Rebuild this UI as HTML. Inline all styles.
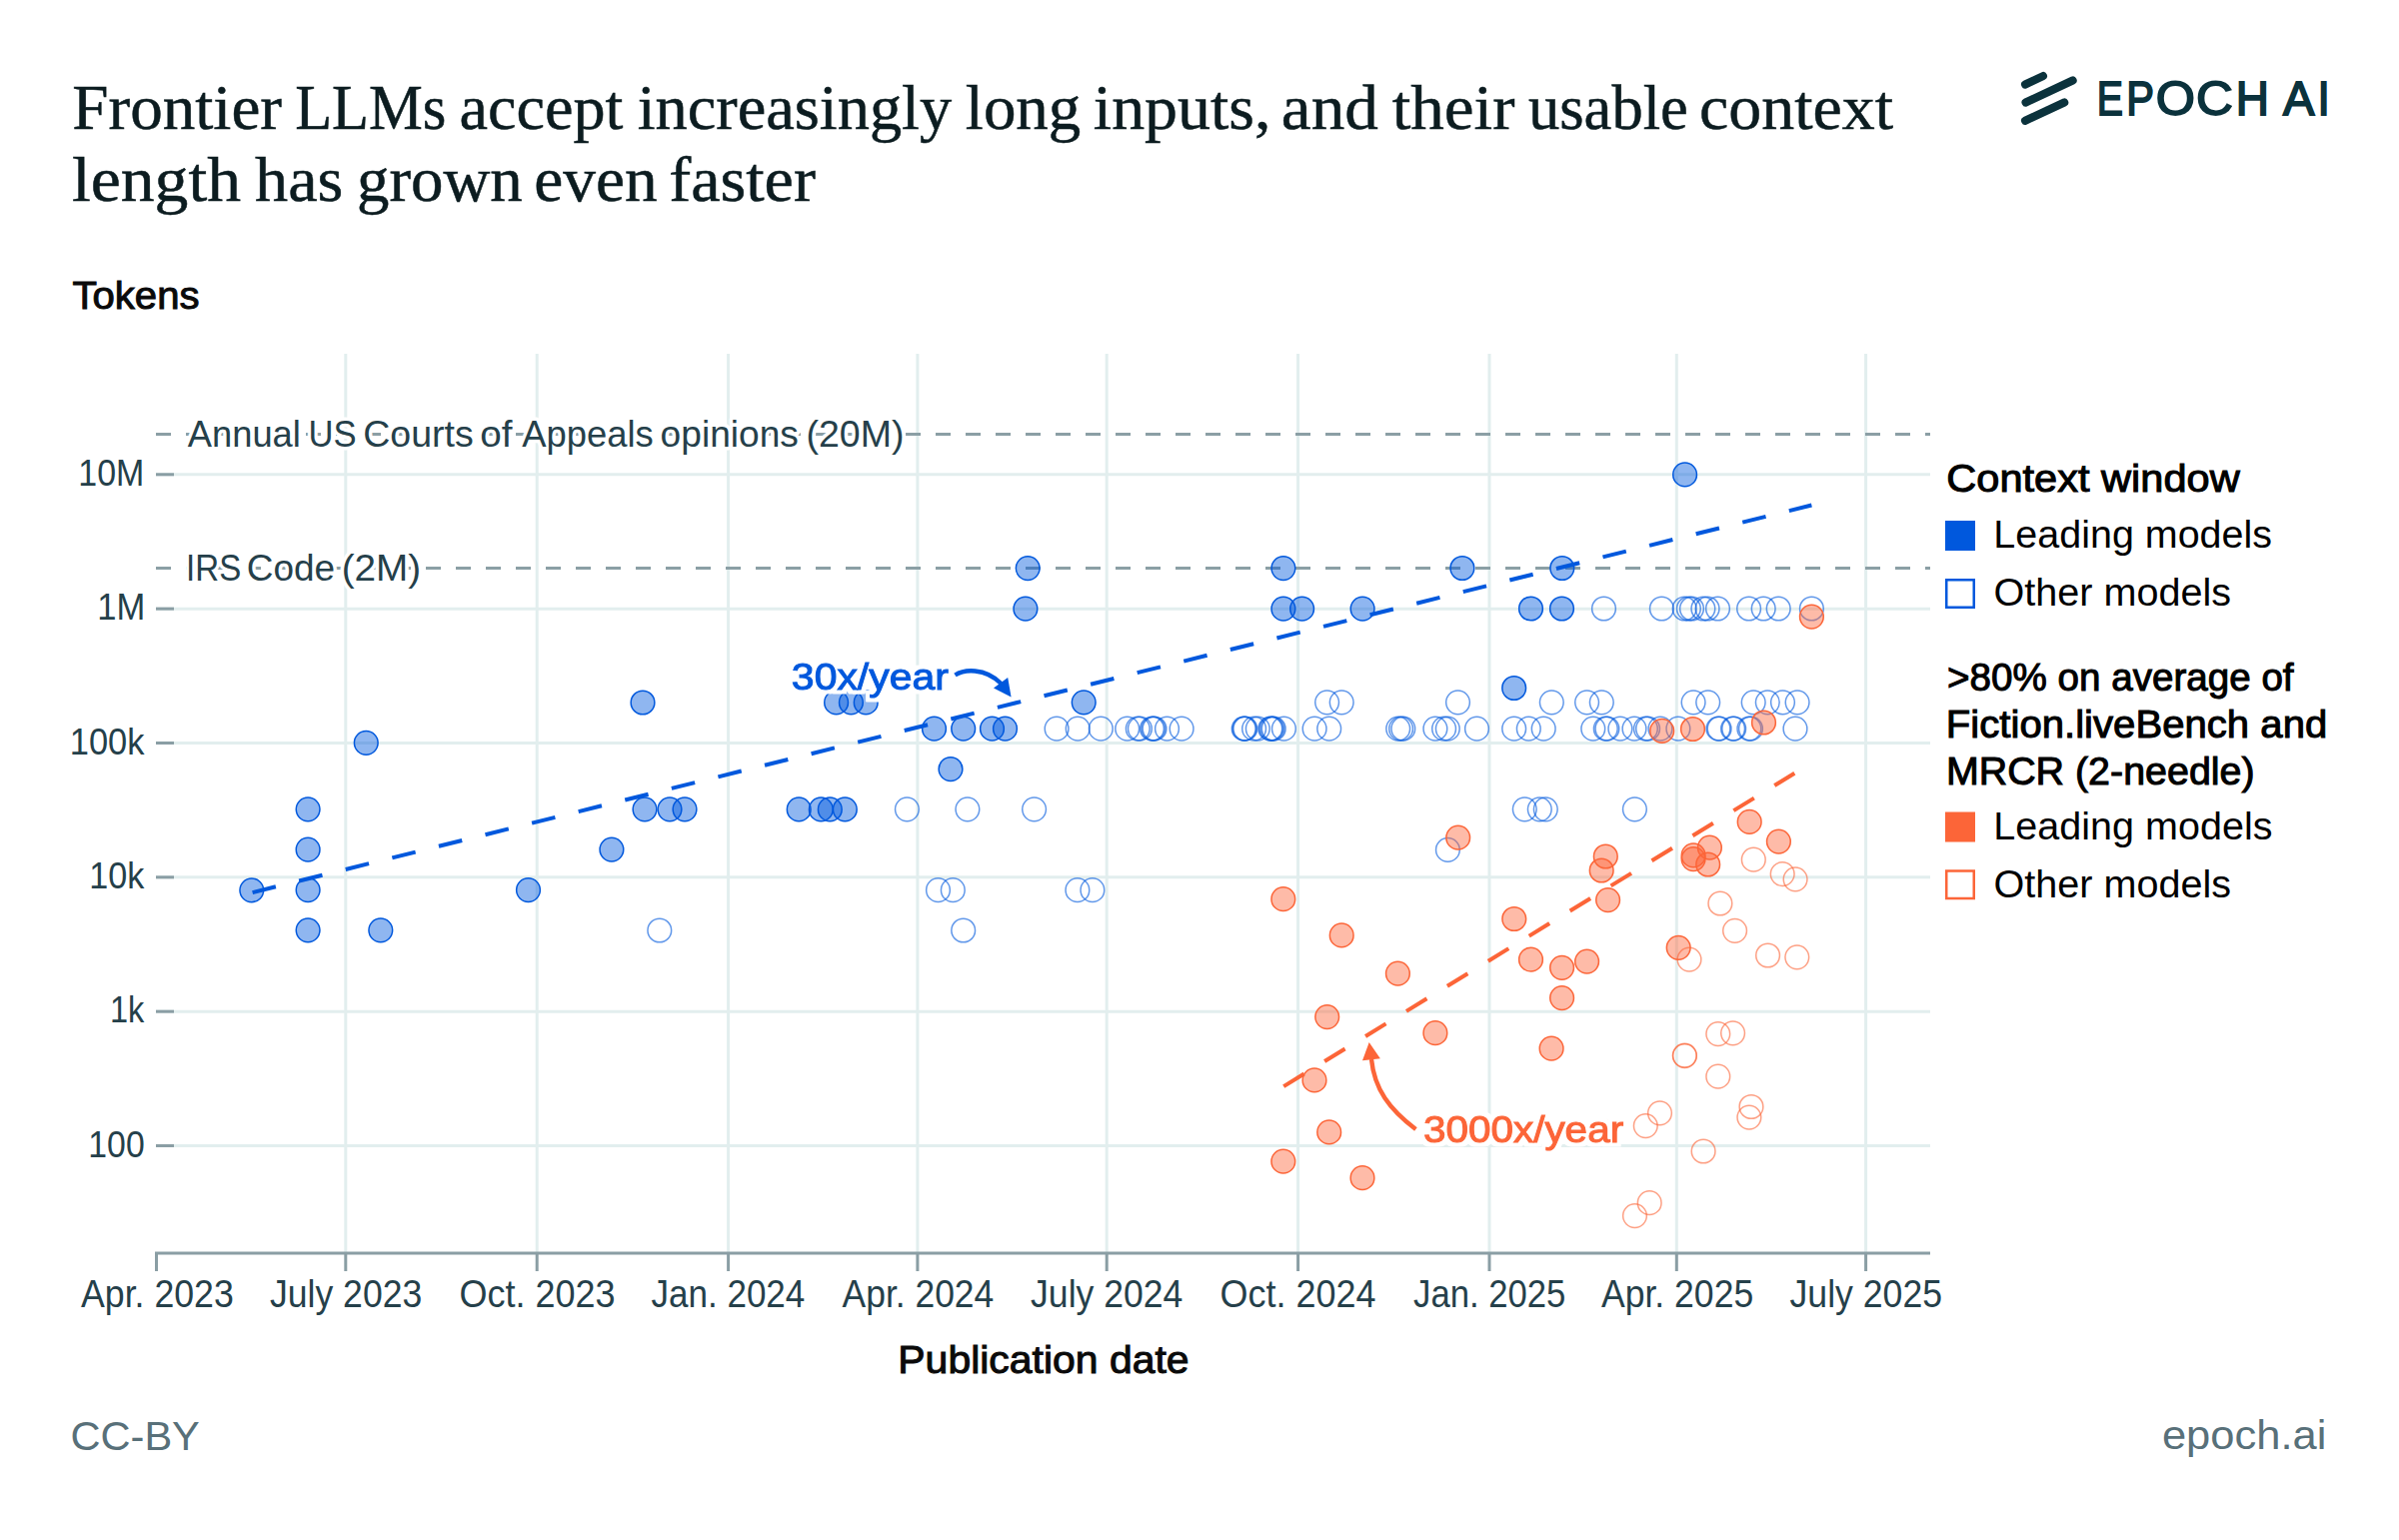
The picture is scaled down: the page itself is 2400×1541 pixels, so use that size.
<!DOCTYPE html><html><head><meta charset="utf-8"><title>Frontier LLMs context length</title><style>
html,body{margin:0;padding:0;background:#fff;width:2400px;height:1541px;overflow:hidden}
svg{display:block}
.sans{font-family:"Liberation Sans",Arial,sans-serif}
.serif{font-family:"Liberation Serif","Times New Roman",serif}
</style></head><body>
<svg width="2400" height="1541" viewBox="0 0 2400 1541">
<rect width="2400" height="1541" fill="#fff"/>
<defs><filter id="halo" x="-10%" y="-40%" width="120%" height="180%" color-interpolation-filters="sRGB"><feMorphology in="SourceAlpha" operator="dilate" radius="3.6" result="d"/><feFlood flood-color="#ffffff" result="f"/><feComposite in="f" in2="d" operator="in" result="w"/><feMerge><feMergeNode in="w"/><feMergeNode in="SourceGraphic"/></feMerge></filter></defs>
<g stroke="#0b323c" stroke-width="8.2" stroke-linecap="round" fill="none">
<line x1="2026.1" y1="84.5" x2="2043.9" y2="76.1"/>
<line x1="2026.6" y1="102.5" x2="2073.6" y2="80.5"/>
<line x1="2026.1" y1="120.7" x2="2065.2" y2="102.5"/>
</g>
<g stroke="#e2eeee" stroke-width="3">
<line x1="345.8" y1="354" x2="345.8" y2="1254"/>
<line x1="537.2" y1="354" x2="537.2" y2="1254"/>
<line x1="728.6" y1="354" x2="728.6" y2="1254"/>
<line x1="917.9" y1="354" x2="917.9" y2="1254"/>
<line x1="1107.2" y1="354" x2="1107.2" y2="1254"/>
<line x1="1298.6" y1="354" x2="1298.6" y2="1254"/>
<line x1="1490.0" y1="354" x2="1490.0" y2="1254"/>
<line x1="1677.3" y1="354" x2="1677.3" y2="1254"/>
<line x1="1866.6" y1="354" x2="1866.6" y2="1254"/>
<line x1="156" y1="474.8" x2="1931" y2="474.8"/>
<line x1="156" y1="609.14" x2="1931" y2="609.14"/>
<line x1="156" y1="743.48" x2="1931" y2="743.48"/>
<line x1="156" y1="877.8199999999999" x2="1931" y2="877.8199999999999"/>
<line x1="156" y1="1012.1600000000001" x2="1931" y2="1012.1600000000001"/>
<line x1="156" y1="1146.5" x2="1931" y2="1146.5"/>
</g>
<g stroke="#8b9fa5" stroke-width="3" stroke-dasharray="15 15">
<line x1="156" y1="434.5" x2="1931" y2="434.5"/>
<line x1="156" y1="568.5" x2="1931" y2="568.5"/>
</g>
<g stroke="#8a9ea4" stroke-width="3">
<line x1="155" y1="1254" x2="1931" y2="1254"/>
<line x1="156.5" y1="1254" x2="156.5" y2="1272"/>
<line x1="345.8" y1="1254" x2="345.8" y2="1272"/>
<line x1="537.2" y1="1254" x2="537.2" y2="1272"/>
<line x1="728.6" y1="1254" x2="728.6" y2="1272"/>
<line x1="917.9" y1="1254" x2="917.9" y2="1272"/>
<line x1="1107.2" y1="1254" x2="1107.2" y2="1272"/>
<line x1="1298.6" y1="1254" x2="1298.6" y2="1272"/>
<line x1="1490.0" y1="1254" x2="1490.0" y2="1272"/>
<line x1="1677.3" y1="1254" x2="1677.3" y2="1272"/>
<line x1="1866.6" y1="1254" x2="1866.6" y2="1272"/>
<line x1="156" y1="474.8" x2="174" y2="474.8"/>
<line x1="156" y1="609.14" x2="174" y2="609.14"/>
<line x1="156" y1="743.48" x2="174" y2="743.48"/>
<line x1="156" y1="877.8199999999999" x2="174" y2="877.8199999999999"/>
<line x1="156" y1="1012.1600000000001" x2="174" y2="1012.1600000000001"/>
<line x1="156" y1="1146.5" x2="174" y2="1146.5"/>
</g>
<text class="serif" y="128.9" font-size="63" fill="#0c1c20" stroke="#0c1c20" stroke-width="0.5"><tspan x="72.27" textLength="209.70" lengthAdjust="spacingAndGlyphs">Frontier</tspan> <tspan x="295.14" textLength="151.30" lengthAdjust="spacingAndGlyphs">LLMs</tspan> <tspan x="459.46" textLength="163.89" lengthAdjust="spacingAndGlyphs">accept</tspan> <tspan x="637.68" textLength="314.43" lengthAdjust="spacingAndGlyphs">increasingly</tspan> <tspan x="965.87" textLength="115.38" lengthAdjust="spacingAndGlyphs">long</tspan> <tspan x="1093.85" textLength="177.60" lengthAdjust="spacingAndGlyphs">inputs,</tspan> <tspan x="1281.87" textLength="97.00" lengthAdjust="spacingAndGlyphs">and</tspan> <tspan x="1392.70" textLength="122.88" lengthAdjust="spacingAndGlyphs">their</tspan> <tspan x="1528.90" textLength="160.04" lengthAdjust="spacingAndGlyphs">usable</tspan> <tspan x="1700.11" textLength="194.00" lengthAdjust="spacingAndGlyphs">context</tspan></text>
<text class="serif" y="200.9" font-size="63" fill="#0c1c20" stroke="#0c1c20" stroke-width="0.5"><tspan x="71.93" textLength="169.09" lengthAdjust="spacingAndGlyphs">length</tspan> <tspan x="255.10" textLength="88.18" lengthAdjust="spacingAndGlyphs">has</tspan> <tspan x="357.04" textLength="165.67" lengthAdjust="spacingAndGlyphs">grown</tspan> <tspan x="534.23" textLength="123.35" lengthAdjust="spacingAndGlyphs">even</tspan> <tspan x="669.20" textLength="146.70" lengthAdjust="spacingAndGlyphs">faster</tspan></text>
<text class="sans" y="115.2" font-size="48.5" fill="#0b323c" stroke="#0b323c" stroke-width="1.8"><tspan x="2097.67" textLength="26.23" lengthAdjust="spacingAndGlyphs">E</tspan><tspan x="2127.13" textLength="27.74" lengthAdjust="spacingAndGlyphs">P</tspan><tspan x="2156.86" textLength="39.24" lengthAdjust="spacingAndGlyphs">O</tspan><tspan x="2196.99" textLength="36.89" lengthAdjust="spacingAndGlyphs">C</tspan><tspan x="2236.86" textLength="33.22" lengthAdjust="spacingAndGlyphs">H</tspan> <tspan x="2283.97" textLength="31.41" lengthAdjust="spacingAndGlyphs">A</tspan><tspan x="2318.53" textLength="12.36" lengthAdjust="spacingAndGlyphs">I</tspan></text>
<text class="sans" x="72.48" y="309" font-size="38.5" fill="#0a0a0a" textLength="127.05" lengthAdjust="spacingAndGlyphs" stroke="#0a0a0a" stroke-width="1.0">Tokens</text>
<text class="sans" x="78.31" y="485.90000000000003" font-size="37.8" fill="#25404a" textLength="65.96" lengthAdjust="spacingAndGlyphs">10M</text>
<text class="sans" x="97.25" y="620.24" font-size="37.8" fill="#25404a" textLength="48.06" lengthAdjust="spacingAndGlyphs">1M</text>
<text class="sans" x="69.76" y="754.58" font-size="37.8" fill="#25404a" textLength="74.71" lengthAdjust="spacingAndGlyphs">100k</text>
<text class="sans" x="89.29" y="888.9200000000001" font-size="37.8" fill="#25404a" textLength="55.08" lengthAdjust="spacingAndGlyphs">10k</text>
<text class="sans" x="109.90" y="1023.26" font-size="37.8" fill="#25404a" textLength="34.36" lengthAdjust="spacingAndGlyphs">1k</text>
<text class="sans" x="88.33" y="1157.6" font-size="37.8" fill="#25404a" textLength="56.35" lengthAdjust="spacingAndGlyphs">100</text>
<text class="sans" x="81.02" y="1307.8" font-size="38" fill="#25404a" textLength="152.79" lengthAdjust="spacingAndGlyphs">Apr. 2023</text>
<text class="sans" x="270.04" y="1307.8" font-size="38" fill="#25404a" textLength="152.17" lengthAdjust="spacingAndGlyphs">July 2023</text>
<text class="sans" x="459.61" y="1307.8" font-size="38" fill="#25404a" textLength="155.97" lengthAdjust="spacingAndGlyphs">Oct. 2023</text>
<text class="sans" x="651.54" y="1307.8" font-size="38" fill="#25404a" textLength="153.77" lengthAdjust="spacingAndGlyphs">Jan. 2024</text>
<text class="sans" x="842.53" y="1307.8" font-size="38" fill="#25404a" textLength="151.78" lengthAdjust="spacingAndGlyphs">Apr. 2024</text>
<text class="sans" x="1031.05" y="1307.8" font-size="38" fill="#25404a" textLength="152.37" lengthAdjust="spacingAndGlyphs">July 2024</text>
<text class="sans" x="1220.60" y="1307.8" font-size="38" fill="#25404a" textLength="155.82" lengthAdjust="spacingAndGlyphs">Oct. 2024</text>
<text class="sans" x="1414.09" y="1307.8" font-size="38" fill="#25404a" textLength="152.27" lengthAdjust="spacingAndGlyphs">Jan. 2025</text>
<text class="sans" x="1601.99" y="1307.8" font-size="38" fill="#25404a" textLength="152.18" lengthAdjust="spacingAndGlyphs">Apr. 2025</text>
<text class="sans" x="1790.56" y="1307.8" font-size="38" fill="#25404a" textLength="152.51" lengthAdjust="spacingAndGlyphs">July 2025</text>
<text class="sans" x="898.34" y="1373.6" font-size="38.5" fill="#0a0a0a" textLength="291.24" lengthAdjust="spacingAndGlyphs" stroke="#0a0a0a" stroke-width="1.0">Publication date</text>
<text class="sans" x="70.48" y="1451.25" font-size="41.2" fill="#587079" textLength="129.39" lengthAdjust="spacingAndGlyphs">CC-BY</text>
<text class="sans" x="2162.92" y="1450" font-size="41.4" fill="#587079" textLength="164.53" lengthAdjust="spacingAndGlyphs">epoch.ai</text>
<text class="sans" x="1947.34" y="492" font-size="38" fill="#000" textLength="293.37" lengthAdjust="spacingAndGlyphs" stroke="#000" stroke-width="1.0">Context window</text>
<text class="sans" x="1994.36" y="547.8" font-size="38" fill="#000" textLength="278.68" lengthAdjust="spacingAndGlyphs">Leading models</text>
<text class="sans" x="1994.45" y="605.8" font-size="38" fill="#000" textLength="237.58" lengthAdjust="spacingAndGlyphs">Other models</text>
<text class="sans" x="1947.97" y="690.5" font-size="38" fill="#000" textLength="346.63" lengthAdjust="spacingAndGlyphs" stroke="#000" stroke-width="1.0">&gt;80% on average of</text>
<text class="sans" x="1946.85" y="737.5" font-size="38" fill="#000" textLength="381.46" lengthAdjust="spacingAndGlyphs" stroke="#000" stroke-width="1.0">Fiction.liveBench and</text>
<text class="sans" x="1946.90" y="784.7" font-size="38" fill="#000" textLength="308.69" lengthAdjust="spacingAndGlyphs" stroke="#000" stroke-width="1.0">MRCR (2-needle)</text>
<text class="sans" x="1994.36" y="840" font-size="38" fill="#000" textLength="279.09" lengthAdjust="spacingAndGlyphs">Leading models</text>
<text class="sans" x="1994.45" y="898.2" font-size="38" fill="#000" textLength="237.58" lengthAdjust="spacingAndGlyphs">Other models</text>
<text class="sans" y="447" font-size="37.4" fill="#25404a" stroke="#fff" stroke-width="7" stroke-linejoin="round" paint-order="stroke"><tspan x="187.80" textLength="113.07" lengthAdjust="spacingAndGlyphs">Annual</tspan> <tspan x="308.52" textLength="48.08" lengthAdjust="spacingAndGlyphs">US</tspan> <tspan x="363.29" textLength="110.45" lengthAdjust="spacingAndGlyphs">Courts</tspan> <tspan x="480.33" textLength="32.26" lengthAdjust="spacingAndGlyphs">of</tspan> <tspan x="522.30" textLength="131.39" lengthAdjust="spacingAndGlyphs">Appeals</tspan> <tspan x="660.61" textLength="138.27" lengthAdjust="spacingAndGlyphs">opinions</tspan> <tspan x="806.49" textLength="97.96" lengthAdjust="spacingAndGlyphs">(20M)</tspan></text>
<text class="sans" y="580.75" font-size="37.4" fill="#25404a" stroke="#fff" stroke-width="7" stroke-linejoin="round" paint-order="stroke"><tspan x="186.10" textLength="55.09" lengthAdjust="spacingAndGlyphs">IRS</tspan> <tspan x="246.77" textLength="88.35" lengthAdjust="spacingAndGlyphs">Code</tspan> <tspan x="341.68" textLength="79.49" lengthAdjust="spacingAndGlyphs">(2M)</tspan></text>
<g fill="none" stroke="#0058dd" stroke-opacity="0.62" stroke-width="1.5">
<circle cx="659.8" cy="931" r="11.85"/>
<circle cx="963.7" cy="931" r="11.85"/>
<circle cx="938.5" cy="890.7" r="11.85"/>
<circle cx="953.3" cy="890.7" r="11.85"/>
<circle cx="1077.9" cy="890.7" r="11.85"/>
<circle cx="1092.9" cy="890.7" r="11.85"/>
<circle cx="1448.4" cy="850.4" r="11.85"/>
<circle cx="907.4" cy="809.8" r="11.85"/>
<circle cx="967.9" cy="809.8" r="11.85"/>
<circle cx="1034.6" cy="809.8" r="11.85"/>
<circle cx="1525.3" cy="809.8" r="11.85"/>
<circle cx="1540.3" cy="809.8" r="11.85"/>
<circle cx="1546.3" cy="809.8" r="11.85"/>
<circle cx="1635.4" cy="809.8" r="11.85"/>
<circle cx="1057.1" cy="729.2" r="11.85"/>
<circle cx="1078.2" cy="729.2" r="11.85"/>
<circle cx="1101.3" cy="729.2" r="11.85"/>
<circle cx="1127.7" cy="729.2" r="11.85"/>
<circle cx="1138.3" cy="729.2" r="11.85"/>
<circle cx="1140.4" cy="729.2" r="11.85"/>
<circle cx="1152.5" cy="729.2" r="11.85"/>
<circle cx="1153.75" cy="729.2" r="11.85"/>
<circle cx="1155" cy="729.2" r="11.85"/>
<circle cx="1167.5" cy="729.2" r="11.85"/>
<circle cx="1182.1" cy="729.2" r="11.85"/>
<circle cx="1244.2" cy="729.2" r="11.85"/>
<circle cx="1245" cy="729.2" r="11.85"/>
<circle cx="1245.8" cy="729.2" r="11.85"/>
<circle cx="1254.6" cy="729.2" r="11.85"/>
<circle cx="1258.3" cy="729.2" r="11.85"/>
<circle cx="1270.8" cy="729.2" r="11.85"/>
<circle cx="1271.7" cy="729.2" r="11.85"/>
<circle cx="1272.9" cy="729.2" r="11.85"/>
<circle cx="1274.2" cy="729.2" r="11.85"/>
<circle cx="1284.4" cy="729.2" r="11.85"/>
<circle cx="1315.1" cy="729.2" r="11.85"/>
<circle cx="1329.7" cy="729.2" r="11.85"/>
<circle cx="1398.7" cy="729.2" r="11.85"/>
<circle cx="1401.6" cy="729.2" r="11.85"/>
<circle cx="1403.8" cy="729.2" r="11.85"/>
<circle cx="1435.9" cy="729.2" r="11.85"/>
<circle cx="1444.6" cy="729.2" r="11.85"/>
<circle cx="1448.3" cy="729.2" r="11.85"/>
<circle cx="1477.5" cy="729.2" r="11.85"/>
<circle cx="1514.7" cy="729.2" r="11.85"/>
<circle cx="1529.3" cy="729.2" r="11.85"/>
<circle cx="1544.2" cy="729.2" r="11.85"/>
<circle cx="1593.8" cy="729.2" r="11.85"/>
<circle cx="1606.3" cy="729.2" r="11.85"/>
<circle cx="1607.9" cy="729.2" r="11.85"/>
<circle cx="1620.9" cy="729.2" r="11.85"/>
<circle cx="1635" cy="729.2" r="11.85"/>
<circle cx="1646.4" cy="729.2" r="11.85"/>
<circle cx="1648.6" cy="729.2" r="11.85"/>
<circle cx="1661" cy="729.2" r="11.85"/>
<circle cx="1678.9" cy="729.2" r="11.85"/>
<circle cx="1719" cy="729.2" r="11.85"/>
<circle cx="1720.1" cy="729.2" r="11.85"/>
<circle cx="1733.6" cy="729.2" r="11.85"/>
<circle cx="1734.7" cy="729.2" r="11.85"/>
<circle cx="1749.9" cy="729.2" r="11.85"/>
<circle cx="1751.5" cy="729.2" r="11.85"/>
<circle cx="1796" cy="729.2" r="11.85"/>
<circle cx="1327.6" cy="702.8" r="11.85"/>
<circle cx="1342.2" cy="702.8" r="11.85"/>
<circle cx="1458.5" cy="702.8" r="11.85"/>
<circle cx="1552.3" cy="702.8" r="11.85"/>
<circle cx="1587.6" cy="702.8" r="11.85"/>
<circle cx="1602.3" cy="702.8" r="11.85"/>
<circle cx="1694.1" cy="702.8" r="11.85"/>
<circle cx="1708.7" cy="702.8" r="11.85"/>
<circle cx="1754.2" cy="702.8" r="11.85"/>
<circle cx="1768.3" cy="702.8" r="11.85"/>
<circle cx="1783.5" cy="702.8" r="11.85"/>
<circle cx="1798.1" cy="702.8" r="11.85"/>
<circle cx="1604.5" cy="609" r="11.85"/>
<circle cx="1662.4" cy="609" r="11.85"/>
<circle cx="1685.2" cy="609" r="11.85"/>
<circle cx="1689.4" cy="609" r="11.85"/>
<circle cx="1692.5" cy="609" r="11.85"/>
<circle cx="1703.9" cy="609" r="11.85"/>
<circle cx="1708.1" cy="609" r="11.85"/>
<circle cx="1718.5" cy="609" r="11.85"/>
<circle cx="1749.6" cy="609" r="11.85"/>
<circle cx="1764.2" cy="609" r="11.85"/>
<circle cx="1779.2" cy="609" r="11.85"/>
<circle cx="1812.4" cy="609" r="11.85"/>
</g>
<g fill="#0058dd" fill-opacity="0.44" stroke="#0058dd" stroke-width="1.5">
<circle cx="251.8" cy="890.8" r="11.85"/>
<circle cx="308.1" cy="809.8" r="11.85"/>
<circle cx="308.1" cy="850.2" r="11.85"/>
<circle cx="308.1" cy="890.6" r="11.85"/>
<circle cx="308.1" cy="930.8" r="11.85"/>
<circle cx="366.25" cy="743.3" r="11.85"/>
<circle cx="380.8" cy="930.8" r="11.85"/>
<circle cx="528.5" cy="890.6" r="11.85"/>
<circle cx="611.9" cy="850.1" r="11.85"/>
<circle cx="643.0" cy="703" r="11.85"/>
<circle cx="645.0" cy="809.8" r="11.85"/>
<circle cx="670.0" cy="809.8" r="11.85"/>
<circle cx="685.0" cy="809.8" r="11.85"/>
<circle cx="799.2" cy="809.9" r="11.85"/>
<circle cx="821.3" cy="809.9" r="11.85"/>
<circle cx="830.3" cy="809.9" r="11.85"/>
<circle cx="845.3" cy="809.9" r="11.85"/>
<circle cx="836.6" cy="702.9" r="11.85"/>
<circle cx="851.4" cy="702.9" r="11.85"/>
<circle cx="866.2" cy="702.9" r="11.85"/>
<circle cx="934.5" cy="729.2" r="11.85"/>
<circle cx="963.7" cy="729.2" r="11.85"/>
<circle cx="992.5" cy="729.2" r="11.85"/>
<circle cx="1005.5" cy="729.2" r="11.85"/>
<circle cx="951" cy="769.6" r="11.85"/>
<circle cx="1084.2" cy="702.8" r="11.85"/>
<circle cx="1028.2" cy="568.6" r="11.85"/>
<circle cx="1025.9" cy="609.2" r="11.85"/>
<circle cx="1283.9" cy="568.6" r="11.85"/>
<circle cx="1283.9" cy="609.2" r="11.85"/>
<circle cx="1302.6" cy="609.2" r="11.85"/>
<circle cx="1363.1" cy="609.2" r="11.85"/>
<circle cx="1462.9" cy="568.5" r="11.85"/>
<circle cx="1562.8" cy="568.5" r="11.85"/>
<circle cx="1531.5" cy="609" r="11.85"/>
<circle cx="1562.5" cy="609" r="11.85"/>
<circle cx="1514.7" cy="688.5" r="11.85"/>
<circle cx="1685.6" cy="474.9" r="11.85"/>
</g>
<g fill="none" stroke="#fc6538" stroke-opacity="0.62" stroke-width="1.5">
<circle cx="1754.3" cy="860.2" r="11.85"/>
<circle cx="1783.2" cy="874.6" r="11.85"/>
<circle cx="1796.1" cy="879.8" r="11.85"/>
<circle cx="1720.9" cy="904" r="11.85"/>
<circle cx="1735.6" cy="931.3" r="11.85"/>
<circle cx="1690" cy="960.1" r="11.85"/>
<circle cx="1768.6" cy="956" r="11.85"/>
<circle cx="1797.8" cy="957.8" r="11.85"/>
<circle cx="1718.8" cy="1034.6" r="11.85"/>
<circle cx="1733.6" cy="1033.8" r="11.85"/>
<circle cx="1685.4" cy="1056.1" r="11.85"/>
<circle cx="1685.4" cy="1056.6" r="11.85"/>
<circle cx="1718.8" cy="1077.2" r="11.85"/>
<circle cx="1752" cy="1107.5" r="11.85"/>
<circle cx="1749.9" cy="1118.1" r="11.85"/>
<circle cx="1660.5" cy="1113.8" r="11.85"/>
<circle cx="1646.3" cy="1126.6" r="11.85"/>
<circle cx="1605" cy="1132" r="11.85"/>
<circle cx="1704.1" cy="1152" r="11.85"/>
<circle cx="1650.2" cy="1203.7" r="11.85"/>
<circle cx="1635.5" cy="1216.6" r="11.85"/>
</g>
<g fill="#fc6538" fill-opacity="0.44" stroke="#fc6538" stroke-width="1.5">
<circle cx="1283.8" cy="899.7" r="11.85"/>
<circle cx="1342.2" cy="935.9" r="11.85"/>
<circle cx="1398.4" cy="974.2" r="11.85"/>
<circle cx="1327.7" cy="1017.6" r="11.85"/>
<circle cx="1435.9" cy="1033.7" r="11.85"/>
<circle cx="1315" cy="1080.9" r="11.85"/>
<circle cx="1329.7" cy="1132.9" r="11.85"/>
<circle cx="1283.8" cy="1162.2" r="11.85"/>
<circle cx="1363" cy="1178.7" r="11.85"/>
<circle cx="1458.7" cy="838.2" r="11.85"/>
<circle cx="1514.8" cy="919.5" r="11.85"/>
<circle cx="1531.5" cy="960.2" r="11.85"/>
<circle cx="1562.6" cy="968.3" r="11.85"/>
<circle cx="1587.6" cy="962.1" r="11.85"/>
<circle cx="1562.6" cy="998.6" r="11.85"/>
<circle cx="1552.1" cy="1049.2" r="11.85"/>
<circle cx="1602.2" cy="871" r="11.85"/>
<circle cx="1606.3" cy="857" r="11.85"/>
<circle cx="1608.6" cy="900.6" r="11.85"/>
<circle cx="1662.7" cy="731.4" r="11.85"/>
<circle cx="1693.5" cy="729.5" r="11.85"/>
<circle cx="1764.5" cy="723" r="11.85"/>
<circle cx="1812.4" cy="617.1" r="11.85"/>
<circle cx="1679.2" cy="948.3" r="11.85"/>
<circle cx="1694.1" cy="855.9" r="11.85"/>
<circle cx="1694.1" cy="859.6" r="11.85"/>
<circle cx="1710.4" cy="848.2" r="11.85"/>
<circle cx="1708.7" cy="865" r="11.85"/>
<circle cx="1750.2" cy="822.4" r="11.85"/>
<circle cx="1779.4" cy="842.1" r="11.85"/>
</g>
<line x1="252.6" y1="893.1" x2="1812.4" y2="505.5" stroke="#0058dd" stroke-width="4" stroke-dasharray="24 24"/>
<line x1="1284.2" y1="1087.1" x2="1795.3" y2="773.8" stroke="#fc6538" stroke-width="4" stroke-dasharray="24 24"/>
<path d="M955.5,675.5 C964,670 985,667.5 1001.5,684" fill="none" stroke="#0058dd" stroke-width="4.4"/>
<path d="M994,688.4 L1008.2,678 L1011.6,697.6 Z" fill="#0058dd"/>
<path d="M1416.4,1130 C1390,1110 1375,1090 1372,1060" fill="none" stroke="#fc6538" stroke-width="4.4"/>
<path d="M1369.7,1043 L1363,1061.3 L1380.9,1059.2 Z" fill="#fc6538"/>
<text class="sans" x="791.88" y="689.6" font-size="37.3" fill="#0058dd" textLength="156.97" lengthAdjust="spacingAndGlyphs" stroke="#0058dd" stroke-width="1.0" filter="url(#halo)">30x/year</text>
<text class="sans" x="1423.92" y="1143.4" font-size="37.6" fill="#fc6538" textLength="200.21" lengthAdjust="spacingAndGlyphs" stroke="#fc6538" stroke-width="1.0" filter="url(#halo)">3000x/year</text>
<g class="sans" fill="#000" font-size="36">
<rect x="1946" y="521" width="30" height="30" fill="#0058dd"/>
<rect x="1947.25" y="580.25" width="27.5" height="27.5" fill="none" stroke="#0058dd" stroke-width="2.5"/>
<rect x="1946" y="812.5" width="30" height="30" fill="#fc6538"/>
<rect x="1947.25" y="871.5" width="27.5" height="27.5" fill="none" stroke="#fc6538" stroke-width="2.5"/>
</g>
</svg></body></html>
